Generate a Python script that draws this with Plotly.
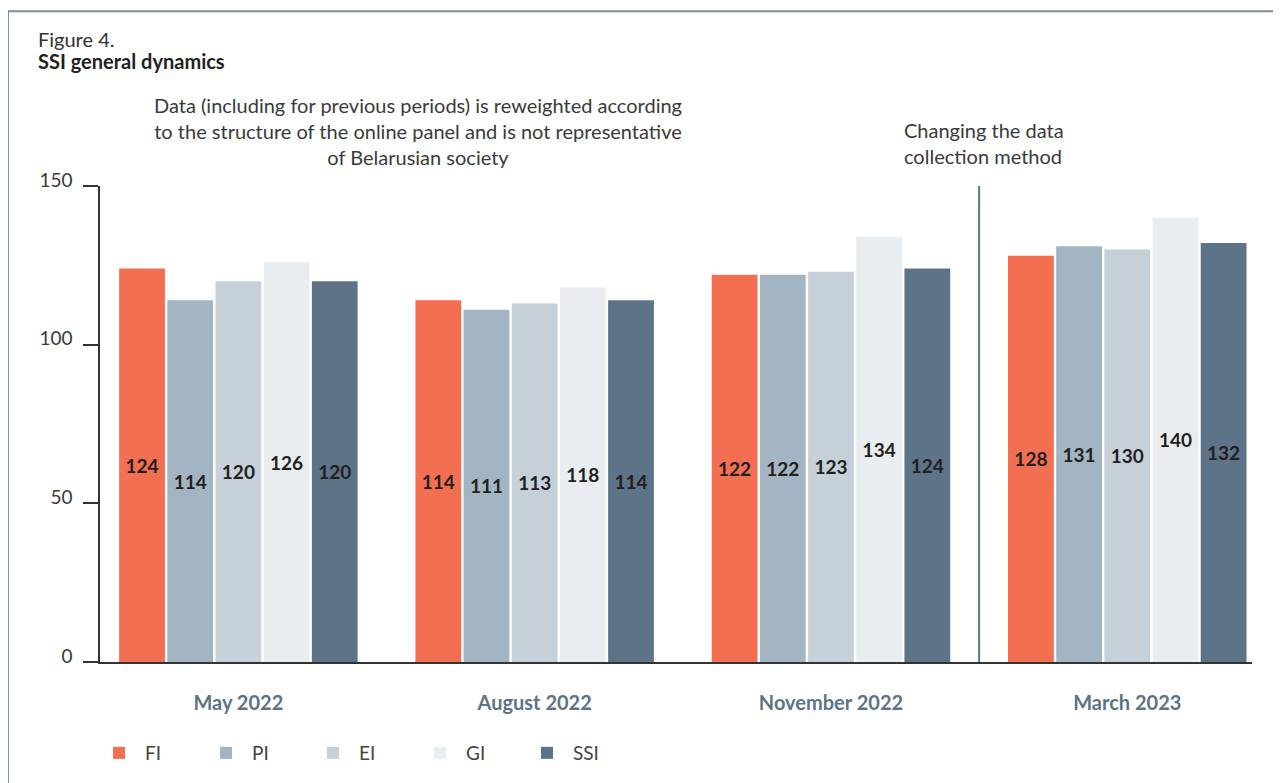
import plotly.graph_objects as go

categories = ["May 2022", "August 2022", "November 2022", "March 2023"]
series_names = ["FI", "PI", "EI", "GI", "SSI"]
FI = [124, 114, 122, 128]
PI = [114, 111, 122, 131]
EI = [120, 113, 123, 130]
GI = [126, 118, 134, 140]
SSI = [120, 114, 124, 132]
y_ticks = [0, 50, 100, 150]

values = [FI, PI, EI, GI, SSI]
colors = ["#f26f52", "#a3b4c2", "#c5d0d9", "#e8edf1", "#5d7387"]

FONT = "Lato"
x_idx = list(range(len(categories)))

fig = go.Figure()
for name, vals, col in zip(series_names, values, colors):
    fig.add_trace(go.Bar(
        x=x_idx, y=vals, name=name,
        marker=dict(color=col, line=dict(width=0)),
        text=[str(v) for v in vals],
        textposition="inside", insidetextanchor="middle", textangle=0,
        constraintext="none",
        insidetextfont=dict(family=FONT, size=19, color="#231f20", weight="bold"),
        hoverinfo="skip",
    ))

# page has an 8px body margin; work in target-image pixels and compensate
OFF = 8
W, H = 1281 - OFF, 783 - OFF
L, R, T, B = 100 - OFF, 29, 186 - OFF, 120
pw = W - L - R
ph = H - T - B

def px_x(p):
    return (p - OFF - L) / pw

def px_y(p):
    return (H - B - (p - OFF)) / ph

fig.update_layout(
    width=W, height=H,
    margin=dict(l=L, r=R, t=T, b=B),
    paper_bgcolor="white", plot_bgcolor="white",
    barmode="group", bargap=0.187, bargroupgap=0.05,
    font=dict(family=FONT, color="#333333"),
    showlegend=True,
    legend=dict(
        orientation="h", x=px_x(93), y=px_y(753), xanchor="left", yanchor="middle",
        font=dict(family=FONT, size=19, color="#444444"),
        itemwidth=42,
        entrywidth=50, entrywidthmode="pixels",
        itemclick=False, itemdoubleclick=False,
    ),
    xaxis=dict(
        range=[-0.467, 3.421],
        tickmode="array", tickvals=x_idx, ticktext=categories,
        tickfont=dict(family=FONT, size=20, color="#5d7387", weight="bold"),
        showgrid=False, zeroline=False,
        showline=True, linecolor="#333333", linewidth=2,
        ticks="", ticklabelstandoff=22,
    ),
    yaxis=dict(
        range=[0, 150],
        tickmode="array", tickvals=y_ticks, ticktext=[str(t) for t in y_ticks],
        tickfont=dict(family=FONT, size=19, color="#3a3a3a"),
        showgrid=False, zeroline=False,
        showline=True, linecolor="#333333", linewidth=1.5,
        ticks="outside", ticklen=15, tickcolor="#333333", tickwidth=1.5,
        ticklabelstandoff=7, ticklabelshift=-6,
    ),
)

# divider line between November 2022 and March 2023
fig.add_shape(type="line", xref="x", yref="y", x0=2.5, x1=2.5, y0=0, y1=150,
              line=dict(color="#5d7387", width=2))

# outer frame
fig.add_shape(type="rect", xref="paper", yref="paper",
              x0=px_x(8), x1=px_x(1300), y0=px_y(800), y1=px_y(11),
              line=dict(color="#7d8e9c", width=2), layer="below")

fig.add_annotation(xref="paper", yref="paper", x=px_x(36), y=px_y(39),
                   xanchor="left", yanchor="middle", showarrow=False,
                   text="Figure 4.", font=dict(family=FONT, size=20, color="#333333"))
fig.add_annotation(xref="paper", yref="paper", x=px_x(36), y=px_y(61),
                   xanchor="left", yanchor="middle", showarrow=False,
                   text="<b>SSI general dynamics</b>", font=dict(family=FONT, size=20, color="#222222"))
fig.add_annotation(xref="paper", yref="paper", x=px_x(418), y=px_y(131),
                   xanchor="center", yanchor="middle", showarrow=False, align="center",
                   text="Data (including for previous periods) is reweighted according<br>"
                        "to the structure of the online panel and is not representative<br>"
                        "of Belarusian society",
                   font=dict(family=FONT, size=20, color="#3a3a3a"))
fig.add_annotation(xref="paper", yref="paper", x=px_x(902), y=px_y(143),
                   xanchor="left", yanchor="middle", showarrow=False, align="left",
                   text="Changing the data<br>collection method",
                   font=dict(family=FONT, size=20, color="#3a3a3a"))

fig.write_html("out.html")
